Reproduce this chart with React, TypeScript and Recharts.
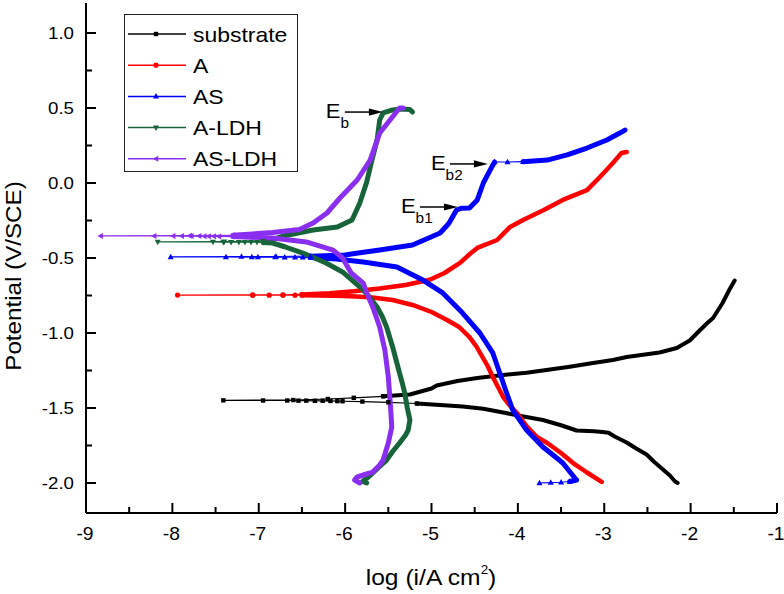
import { LineChart, Line, XAxis, YAxis, Legend, Label, ReferenceDot } from 'recharts';

type Pt = [number, number];

const xTicks = [-9, -8.5, -8, -7.5, -7, -6.5, -6, -5.5, -5, -4.5, -4, -3.5, -3, -2.5, -2, -1.5, -1];
const yTicks = [-2, -1.75, -1.5, -1.25, -1, -0.75, -0.5, -0.25, 0, 0.25, 0.5, 0.75, 1];

// substrate
const substrateCathodic: Pt[] = [
  [-2.15, -2.0], [-2.18, -1.99], [-2.24, -1.95], [-2.32, -1.91], [-2.42, -1.86], [-2.51, -1.81],
  [-2.63, -1.77], [-2.74, -1.73], [-2.88, -1.69], [-2.95, -1.665], [-3.02, -1.66], [-3.12, -1.655],
  [-3.32, -1.65], [-3.5, -1.615], [-3.71, -1.58], [-3.95, -1.555], [-4.17, -1.53], [-4.4, -1.505],
  [-4.64, -1.49], [-4.9, -1.48], [-5.17, -1.47],
];
const substrateEcorr: Pt[] = [
  [-5.17, -1.47], [-5.5, -1.462], [-5.8, -1.457], [-6.03, -1.455], [-6.09, -1.454], [-6.17, -1.453],
  [-6.26, -1.452], [-6.35, -1.452], [-6.45, -1.451], [-6.54, -1.451], [-6.67, -1.45], [-6.95, -1.45],
  [-7.41, -1.449], [-6.6, -1.447], [-6.2, -1.44], [-5.9, -1.432], [-5.56, -1.422],
];
const substrateAnodic: Pt[] = [
  [-5.56, -1.422], [-5.25, -1.41], [-5.0, -1.37], [-4.94, -1.35], [-4.7, -1.32], [-4.47, -1.3],
  [-4.17, -1.28], [-3.9, -1.265], [-3.71, -1.25], [-3.4, -1.225], [-3.13, -1.2], [-2.9, -1.18],
  [-2.74, -1.16], [-2.55, -1.145], [-2.36, -1.13], [-2.16, -1.1], [-2.01, -1.05], [-1.89, -0.98],
  [-1.8, -0.93], [-1.74, -0.9], [-1.63, -0.8], [-1.55, -0.71], [-1.49, -0.65],
];

// A
const aCathodic: Pt[] = [
  [-3.03, -1.993], [-3.2, -1.93], [-3.36, -1.867], [-3.5, -1.8], [-3.66, -1.733], [-3.78, -1.693],
  [-3.9, -1.62], [-4.01, -1.533], [-4.1, -1.48], [-4.17, -1.427], [-4.23, -1.36], [-4.29, -1.293],
  [-4.35, -1.22], [-4.41, -1.16], [-4.48, -1.09], [-4.56, -1.027], [-4.68, -0.96], [-4.82, -0.913],
  [-5.0, -0.86], [-5.22, -0.813], [-5.45, -0.78], [-5.71, -0.762], [-6.0, -0.754], [-6.3, -0.75],
  [-6.5, -0.748],
];
const aEcorr: Pt[] = [
  [-6.5, -0.748], [-6.58, -0.748], [-6.72, -0.748], [-6.88, -0.748], [-7.07, -0.748], [-7.94, -0.747],
  [-7.07, -0.746], [-6.72, -0.745], [-6.5, -0.743],
];
const aAnodic: Pt[] = [
  [-6.5, -0.743], [-6.18, -0.735], [-5.9, -0.722], [-5.6, -0.703], [-5.3, -0.68], [-5.02, -0.645],
  [-4.85, -0.6], [-4.67, -0.533], [-4.55, -0.47], [-4.47, -0.433], [-4.24, -0.38], [-4.09, -0.293],
  [-3.94, -0.247], [-3.7, -0.18], [-3.48, -0.113], [-3.2, -0.047], [-3.05, 0.04], [-2.9, 0.133],
  [-2.8, 0.2], [-2.74, 0.207],
];

// AS
const asStart: Pt[] = [[-3.75, -2.0], [-3.62, -1.997], [-3.5, -1.995], [-3.4, -1.99]];
const asCathodic: Pt[] = [
  [-3.4, -1.99], [-3.32, -1.98], [-3.34, -1.967], [-3.48, -1.867], [-3.6, -1.81], [-3.71, -1.76],
  [-3.9, -1.647], [-4.06, -1.513], [-4.13, -1.4], [-4.21, -1.267], [-4.29, -1.133], [-4.44, -1.0],
  [-4.64, -0.867], [-4.87, -0.733], [-5.1, -0.647], [-5.4, -0.56], [-5.79, -0.527], [-6.1, -0.507],
  [-6.4, -0.497],
];
const asEcorr: Pt[] = [
  [-6.4, -0.497], [-6.49, -0.496], [-6.58, -0.495], [-6.7, -0.495], [-6.81, -0.494], [-7.01, -0.494],
  [-7.08, -0.494], [-7.38, -0.493], [-8.02, -0.493], [-7.2, -0.491], [-6.8, -0.49], [-6.4, -0.488],
];
const asAnodic: Pt[] = [
  [-6.4, -0.488], [-6.0, -0.48], [-5.89, -0.47], [-5.6, -0.447], [-5.22, -0.413], [-4.9, -0.333],
  [-4.8, -0.27], [-4.71, -0.18], [-4.65, -0.168], [-4.56, -0.167], [-4.47, -0.113], [-4.4, 0.0],
  [-4.32, 0.087], [-4.27, 0.14],
];
const asPlateau: Pt[] = [[-4.27, 0.14], [-4.12, 0.14], [-3.94, 0.142]];
const asTail: Pt[] = [
  [-3.94, 0.142], [-3.66, 0.153], [-3.43, 0.187], [-3.2, 0.233], [-2.97, 0.287], [-2.82, 0.333],
  [-2.76, 0.353],
];

// A-LDH
const aLdhCathodic: Pt[] = [
  [-5.75, -2.0], [-5.8, -1.99], [-5.73, -1.96], [-5.68, -1.933], [-5.6, -1.89], [-5.52, -1.847],
  [-5.45, -1.79], [-5.37, -1.733], [-5.3, -1.68], [-5.27, -1.647], [-5.25, -1.58], [-5.28, -1.5],
  [-5.31, -1.4], [-5.34, -1.33], [-5.37, -1.267], [-5.41, -1.18], [-5.45, -1.093], [-5.52, -0.96],
  [-5.57, -0.89], [-5.63, -0.827], [-5.72, -0.76], [-5.79, -0.713], [-5.88, -0.667], [-6.03, -0.593],
  [-6.22, -0.533], [-6.49, -0.467], [-6.7, -0.425], [-6.84, -0.4], [-6.95, -0.396],
];
const aLdhEcorr: Pt[] = [
  [-6.95, -0.396], [-7.02, -0.395], [-7.09, -0.395], [-7.16, -0.395], [-7.23, -0.394], [-7.32, -0.394],
  [-7.41, -0.394], [-7.53, -0.393], [-8.17, -0.393], [-7.4, -0.391], [-6.95, -0.388],
];
const aLdhAnodic: Pt[] = [
  [-6.95, -0.388], [-6.8, -0.37], [-6.69, -0.35], [-6.37, -0.313], [-6.09, -0.293], [-5.92, -0.247],
  [-5.83, -0.133], [-5.75, 0.007], [-5.69, 0.153], [-5.63, 0.287], [-5.6, 0.42], [-5.56, 0.467],
  [-5.45, 0.487], [-5.35, 0.493], [-5.25, 0.49], [-5.22, 0.473],
];

// AS-LDH
const asLdhCathodic: Pt[] = [
  [-5.83, -2.0], [-5.89, -1.98], [-5.86, -1.96], [-5.78, -1.945], [-5.68, -1.927], [-5.6, -1.88],
  [-5.56, -1.847], [-5.5, -1.733], [-5.46, -1.627], [-5.47, -1.53], [-5.48, -1.447], [-5.5, -1.293],
  [-5.54, -1.113], [-5.6, -0.96], [-5.68, -0.827], [-5.75, -0.733], [-5.79, -0.667], [-5.93, -0.6],
  [-6.03, -0.5], [-6.14, -0.447], [-6.45, -0.393], [-6.84, -0.367], [-7.3, -0.357],
];
const asLdhEcorr: Pt[] = [
  [-7.3, -0.357], [-7.46, -0.356], [-7.52, -0.355], [-7.58, -0.355], [-7.63, -0.355], [-7.69, -0.354],
  [-7.78, -0.354], [-7.89, -0.354], [-7.99, -0.353], [-8.21, -0.353], [-8.83, -0.353], [-7.8, -0.351],
  [-7.3, -0.349],
];
const asLdhAnodic: Pt[] = [
  [-7.3, -0.349], [-6.84, -0.33], [-6.53, -0.31], [-6.37, -0.267], [-6.21, -0.2], [-6.06, -0.1],
  [-5.86, 0.02], [-5.71, 0.153], [-5.6, 0.333], [-5.48, 0.42], [-5.37, 0.5], [-5.33, 0.5],
];

// breakdown potential markers (arrow tip)
const annotations = [
  { sub: 'b', x: -5.563, y: 0.473 },
  { sub: 'b2', x: -4.347, y: 0.127 },
  { sub: 'b1', x: -4.694, y: -0.16 },
];

type Shape = 'square' | 'circle' | 'up' | 'down' | 'left';

const SERIES: { name: string; color: string; width: number; marker: Shape; segments: { pts: Pt[]; thin?: boolean }[] }[] = [
  {
    name: 'substrate', color: '#000000', width: 4, marker: 'square',
    segments: [{ pts: substrateCathodic }, { pts: substrateEcorr, thin: true }, { pts: substrateAnodic }],
  },
  {
    name: 'A', color: '#ff0000', width: 4.5, marker: 'circle',
    segments: [{ pts: aCathodic }, { pts: aEcorr, thin: true }, { pts: aAnodic }],
  },
  {
    name: 'AS', color: '#0000ff', width: 5, marker: 'up',
    segments: [
      { pts: asStart, thin: true }, { pts: asCathodic }, { pts: asEcorr, thin: true },
      { pts: asAnodic }, { pts: asPlateau, thin: true }, { pts: asTail },
    ],
  },
  {
    name: 'A-LDH', color: '#17643a', width: 5, marker: 'down',
    segments: [{ pts: aLdhCathodic }, { pts: aLdhEcorr, thin: true }, { pts: aLdhAnodic }],
  },
  {
    name: 'AS-LDH', color: '#8a2ef0', width: 5, marker: 'left',
    segments: [{ pts: asLdhCathodic }, { pts: asLdhEcorr, thin: true }, { pts: asLdhAnodic }],
  },
];

const FONT = '"Liberation Sans", Arial, Helvetica, sans-serif';

function Marker({ shape, cx, cy, color, s = 1 }: { shape: Shape; cx: number; cy: number; color: string; s?: number }) {
  if (shape === 'square') return <rect x={cx - 2.2 * s} y={cy - 2.2 * s} width={4.4 * s} height={4.4 * s} fill={color} />;
  if (shape === 'circle') return <circle cx={cx} cy={cy} r={2.6 * s} fill={color} />;
  let p = '';
  if (shape === 'up') p = `${cx},${cy - 3.3 * s} ${cx - 3 * s},${cy + 2.2 * s} ${cx + 3 * s},${cy + 2.2 * s}`;
  if (shape === 'down') p = `${cx},${cy + 3.3 * s} ${cx - 3 * s},${cy - 2.2 * s} ${cx + 3 * s},${cy - 2.2 * s}`;
  if (shape === 'left') p = `${cx - 3.3 * s},${cy} ${cx + 2.2 * s},${cy - 3 * s} ${cx + 2.2 * s},${cy + 3 * s}`;
  return <polygon points={p} fill={color} />;
}

const isMajor = (v: number, step: number) => Math.abs(v / step - Math.round(v / step)) < 1e-6;

function YTick(props: any) {
  const { x, y, payload } = props;
  const v = payload.value as number;
  const major = isMajor(v, 0.5);
  return (
    <g>
      <line x1={x} x2={x + (major ? 10 : 6)} y1={y} y2={y} stroke="#000" strokeWidth={2} />
      {major && (
        <text transform={`translate(${x - 12},${y + 6}) scale(1.1,1)`} textAnchor="end" fontSize={17} fill="#000">
          {v.toFixed(1)}
        </text>
      )}
    </g>
  );
}

function XTick(props: any) {
  const { x, y, payload } = props;
  const v = payload.value as number;
  const major = isMajor(v, 1);
  return (
    <g>
      <line x1={x} x2={x} y1={y} y2={y - (major ? 10 : 6)} stroke="#000" strokeWidth={2} />
      {major && (
        <text transform={`translate(${x - 1},${y + 27}) scale(1.1,1)`} textAnchor="middle" fontSize={17.5} fill="#000">
          {String(v)}
        </text>
      )}
    </g>
  );
}

function LegendBox() {
  return (
    <svg width={176} height={160} style={{ display: 'block' }}>
      <rect x={0.5} y={0.5} width={173} height={157} fill="#fff" stroke="#222" strokeWidth={1} />
      {SERIES.map((s, i) => {
        const cy = 20 + i * 31.2;
        return (
          <g key={s.name}>
            <line x1={4} x2={62} y1={cy} y2={cy} stroke={s.color} strokeWidth={1.5} />
            <Marker shape={s.marker} cx={32} cy={cy} color={s.color} />
            <text transform={`translate(69,${cy + 7.5}) scale(1.12,1)`} fontSize={20.5} fill="#000" fontFamily={FONT}>
              {s.name}
            </text>
          </g>
        );
      })}
    </svg>
  );
}

function Arrow({ cx, cy, sub }: { cx: number; cy: number; sub: string }) {
  return (
    <g>
      <line x1={cx - 38} x2={cx - 12} y1={cy} y2={cy} stroke="#000" strokeWidth={1.5} />
      <polygon points={`${cx},${cy} ${cx - 14},${cy - 3.6} ${cx - 14},${cy + 3.6}`} fill="#000" />
      <text transform={`translate(${cx - 57},${cy + 6}) scale(1.1,1)`} fontSize={20} fill="#000">
        E<tspan fontSize={14} dy={10}>{sub}</tspan>
      </text>
    </g>
  );
}

export default function App() {
  return (
    <div style={{ position: 'absolute', left: 0, top: 0, fontFamily: FONT, background: '#fff' }}>
      <LineChart width={784} height={594} margin={{ top: 3, right: 7, bottom: 0, left: 0 }}>
        <XAxis
          dataKey="x"
          type="number"
          domain={[-9, -1]}
          ticks={xTicks}
          interval={0}
          allowDataOverflow
          height={81}
          tickSize={0}
          tickMargin={0}
          tickLine={false}
          axisLine={{ stroke: '#000', strokeWidth: 2 }}
          tick={<XTick />}
        >
          <Label
            content={() => (
              <text transform="translate(431,585) scale(1.12,1)" textAnchor="middle" fontSize={22} fill="#000">
                log (i/A cm<tspan fontSize={12} dy={-11}>2</tspan>
                <tspan dy={11}>)</tspan>
              </text>
            )}
          />
        </XAxis>
        <XAxis xAxisId="top" orientation="top" type="number" domain={[-9, -1]} height={0} tick={false} tickLine={false} axisLine={{ stroke: '#000', strokeWidth: 2 }} />
        <YAxis
          dataKey="y"
          type="number"
          domain={[-2.2, 1.2]}
          ticks={yTicks}
          interval={0}
          allowDataOverflow
          width={86}
          tickSize={0}
          tickMargin={0}
          tickLine={false}
          axisLine={{ stroke: '#000', strokeWidth: 2 }}
          tick={<YTick />}
        >
          <Label
            content={() => (
              <text transform="translate(21,276) rotate(-90) scale(1.1,1)" textAnchor="middle" fontSize={22} fill="#000">
                Potential (V/SCE)
              </text>
            )}
          />
        </YAxis>
        <YAxis yAxisId="right" orientation="right" type="number" domain={[-2.2, 1.2]} width={0} tick={false} tickLine={false} axisLine={{ stroke: '#000', strokeWidth: 2 }} />
        {SERIES.flatMap((s) =>
          s.segments.map((seg, j) => (
            <Line
              key={`${s.name}-${j}`}
              data={seg.pts.map(([x, y]) => ({ x, y }))}
              dataKey="y"
              type="linear"
              stroke={s.color}
              strokeWidth={seg.thin ? 1.2 : s.width}
              strokeLinejoin="round"
              strokeLinecap="round"
              dot={
                seg.thin
                  ? (p: any) => <Marker key={`${s.name}-${j}-${p.index}`} shape={s.marker} cx={p.cx} cy={p.cy} color={s.color} />
                  : false
              }
              activeDot={false}
              legendType="none"
              isAnimationActive={false}
            />
          ))
        )}
        {annotations.map((a) => (
          <ReferenceDot
            key={a.sub}
            x={a.x}
            y={a.y}
            r={0}
            ifOverflow="visible"
            shape={(p: any) => <Arrow cx={p.cx} cy={p.cy} sub={a.sub} />}
          />
        ))}
        <Legend
          layout="vertical"
          align="center"
          verticalAlign="middle"
          content={() => <LegendBox />}
          wrapperStyle={{ left: 124, top: 14, width: 176, height: 160 }}
        />
      </LineChart>
    </div>
  );
}
